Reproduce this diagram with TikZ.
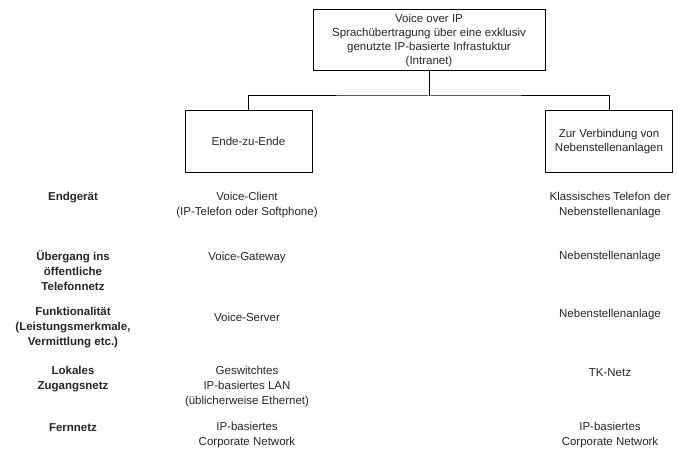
\documentclass[tikz,border=0pt]{standalone}
\usepackage{fontspec}
\setmainfont{Liberation Sans}
\usetikzlibrary{positioning}

\begin{document}
\begin{tikzpicture}[x=1pt, y=-1pt,
    txt/.style={align=center, inner sep=0pt, text=black!85, font=\fontsize{11.5}{15}\selectfont},
    hd/.style={txt, font=\fontsize{11.5}{15}\selectfont\bfseries},
    box/.style={draw, line width=1pt, align=center, inner sep=0pt, text=black!85, font=\fontsize{11.5}{14}\selectfont},
    link/.style={line width=1pt}]
    \useasboundingbox (0,0) rectangle (678,452);

    % Boxes
    \node[box, minimum width=232, minimum height=61] (voip) at (429,40.5) {Voice over IP\\Sprachübertragung über eine exklusiv\\genutzte IP-basierte Infrastuktur\\(Intranet)};
    \node[box, minimum width=127, minimum height=61] (e2e) at (248.5,141.5) {Ende-zu-Ende};
    \node[box, minimum width=127, minimum height=61] (nst) at (609,141.5) {Zur Verbindung von\\Nebenstellenanlagen};
    \coordinate (split) at (429,96);

    % Draw edges
    \draw[link] (voip) -- (split);
    \draw[link] (e2e.north) |- (split) -| (nst.north);

    % Row labels
    \node[hd] (r1) at (73,198) {Endgerät};
    \node[hd] (r2) at (73,271) {Übergang ins\\öffentliche\\Telefonnetz};
    \node[hd] (r3) at (73,328) {Funktionalität\\(Leistungsmerkmale,\\Vermittlung etc.)};
    \node[hd] (r4) at (73,379.5) {Lokales\\Zugangsnetz};
    \node[hd] (r5) at (73,428) {Fernnetz};

    % Ende-zu-Ende column
    \node[txt] (a1) at (247,205.5) {Voice-Client\\(IP-Telefon oder Softphone)};
    \node[txt] (a2) at (247,258) {Voice-Gateway};
    \node[txt] (a3) at (247,317) {Voice-Server};
    \node[txt] (a4) at (247,387) {Geswitchtes\\IP-basiertes LAN\\(üblicherweise Ethernet)};
    \node[txt] (a5) at (247,435.5) {IP-basiertes\\Corporate Network};

    % Nebenstellen column
    \node[txt] (b1) at (610,205.5) {Klassisches Telefon der\\Nebenstellenanlage};
    \node[txt] (b2) at (610,257) {Nebenstellenanlage};
    \node[txt] (b3) at (610,315) {Nebenstellenanlage};
    \node[txt] (b4) at (610,373) {TK-Netz};
    \node[txt] (b5) at (610,435.5) {IP-basiertes\\Corporate Network};
\end{tikzpicture}
\end{document}
